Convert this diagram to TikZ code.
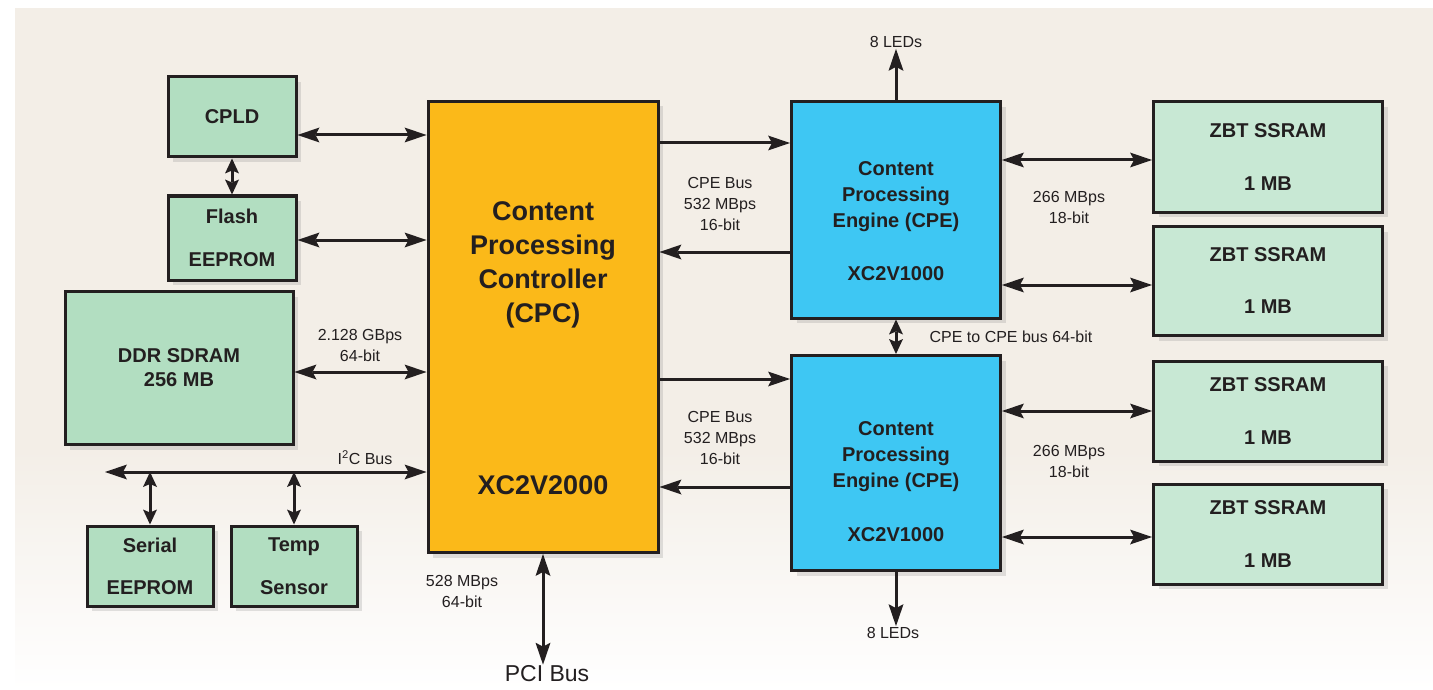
\documentclass[tikz,border=0pt]{standalone}
\usepackage{fontspec}
\setmainfont{Liberation Sans}
\usetikzlibrary{arrows.meta,shadows}

\definecolor{bgbeige}{RGB}{243,238,231}
\definecolor{boxgreen}{RGB}{178,222,193}
\definecolor{zbtgreen}{RGB}{200,232,212}
\definecolor{cpcorange}{RGB}{251,185,25}
\definecolor{cpecyan}{RGB}{62,199,243}
\definecolor{inkgray}{RGB}{35,31,32}

\tikzset{
  blk/.style={draw=inkgray, line width=3pt, inner sep=0pt, align=center, text=inkgray,
    font=\bfseries\fontsize{20}{24}\selectfont,
    drop shadow={shadow xshift=5pt, shadow yshift=-5pt, opacity=0.22}},
  greenblk/.style={blk, fill=boxgreen},
  zbtblk/.style={blk, fill=zbtgreen},
  cpcblk/.style={blk, fill=cpcorange},
  cpeblk/.style={blk, fill=cpecyan},
  blktext/.style={text=inkgray, align=center, inner sep=0pt},
  note/.style={text=inkgray, align=center, inner sep=1pt, font=\fontsize{16}{21}\selectfont},
  bigtip/.tip={Stealth[length=22pt,width=15pt,inset=4pt,line width=0pt]},
  smalltip/.tip={Stealth[length=15pt,width=14pt,inset=3pt,line width=0pt]},
  biarrow/.style={draw=inkgray, line width=3pt, bigtip-bigtip},
  shortarrow/.style={draw=inkgray, line width=3pt, smalltip-smalltip},
  onearrow/.style={draw=inkgray, line width=3pt, -bigtip},
}

\begin{document}
\begin{tikzpicture}[x=1pt, y=-1pt]
  \useasboundingbox (0,0) rectangle (1433,690);
  % Background
  \fill[bgbeige] (15,8) rectangle (1433,450);
  \shade[top color=bgbeige, bottom color=white] (15,449) rectangle (1433,690);

  % Draw the boxes
  \node[greenblk, minimum width=128pt, minimum height=80pt] (cpld) at (232,117) {CPLD};
  \node[greenblk, minimum width=128pt, minimum height=84pt] (flash) at (232,238) {Flash\\[19pt]EEPROM};
  \node[greenblk, minimum width=228pt, minimum height=153pt] (ddr) at (179,368) {DDR SDRAM\\256 MB};
  \node[greenblk, minimum width=126pt, minimum height=80pt] (serial) at (150,566) {Serial\\[18pt]EEPROM};
  \node[greenblk, minimum width=126pt, minimum height=80pt] (temp) at (294,566) {Temp\\[19pt]Sensor};
  \node[cpcblk, minimum width=230pt, minimum height=451pt] (cpc) at (543,327) {};
  \node[cpeblk, minimum width=209pt, minimum height=216pt] (cpe1) at (896,210) {};
  \node[cpeblk, minimum width=209pt, minimum height=215pt] (cpe2) at (896,463) {};
  \node[zbtblk, minimum width=229pt, minimum height=110pt] (zbt1) at (1268,157) {ZBT SSRAM\\[29pt]1 MB};
  \node[zbtblk, minimum width=229pt, minimum height=109pt] (zbt2) at (1268,281) {ZBT SSRAM\\[28pt]1 MB};
  \node[zbtblk, minimum width=229pt, minimum height=100pt] (zbt3) at (1268,411) {ZBT SSRAM\\[29pt]1 MB};
  \node[zbtblk, minimum width=229pt, minimum height=100pt] (zbt4) at (1268,534) {ZBT SSRAM\\[29pt]1 MB};

  % Draw the box titles
  \node[blktext, font=\bfseries\fontsize{27}{34}\selectfont] (cpctitle) at (543,265)
    {Content\\Processing\\Controller\\(CPC)};
  \node[blktext, font=\bfseries\fontsize{27}{34}\selectfont] (cpcpart) at (543,485) {XC2V2000};
  \node[blktext, font=\bfseries\fontsize{20}{26}\selectfont] (cpe1title) at (896,197)
    {Content\\Processing\\Engine (CPE)};
  \node[blktext, font=\bfseries\fontsize{20}{26}\selectfont] (cpe1part) at (896,274) {XC2V1000};
  \node[blktext, font=\bfseries\fontsize{20}{26}\selectfont] (cpe2title) at (896,457)
    {Content\\Processing\\Engine (CPE)};
  \node[blktext, font=\bfseries\fontsize{20}{26}\selectfont] (cpe2part) at (896,535) {XC2V1000};

  % Draw the bus labels
  \node[note] (ddrbus) at (360,345) {2.128 GBps\\64-bit};
  \node[note] (i2cbus) at (365,458) {I\textsuperscript{2}C Bus};
  \node[note] (cpebusa) at (720,204) {CPE Bus\\532 MBps\\16-bit};
  \node[note] (cpebusb) at (720,438) {CPE Bus\\532 MBps\\16-bit};
  \node[note] (zbtbusa) at (1069,207) {266 MBps\\18-bit};
  \node[note] (zbtbusb) at (1069,461) {266 MBps\\18-bit};
  \node[note] (cpelink) at (1011,337) {CPE to CPE bus 64-bit};
  \node[note] (pcibus) at (462,591) {528 MBps\\64-bit};
  \node[note] (ledsup) at (896,42) {8 LEDs};
  \node[note] (ledsdown) at (893,633) {8 LEDs};
  \node[note, font=\fontsize{23}{27}\selectfont] (pci) at (547,674) {PCI Bus};
  \coordinate (i2cend) at (105,472);

  % Draw the connectors
  \draw[biarrow] (cpld.east |- 0,135) -- (cpc.west |- 0,135);
  \draw[biarrow] (flash.east |- 0,240) -- (cpc.west |- 0,240);
  \draw[shortarrow] (cpld.south) -- (flash.north);
  \draw[biarrow] (ddr.east |- 0,372) -- (cpc.west |- 0,372);
  \draw[biarrow] (i2cend) -- (cpc.west |- i2cend);
  \draw[shortarrow] (serial.north) -- (serial.north |- i2cend);
  \draw[shortarrow] (temp.north) -- (temp.north |- i2cend);
  \draw[onearrow] (cpc.east |- 0,143) -- (cpe1.west |- 0,143);
  \draw[onearrow] (cpe1.west |- 0,252) -- (cpc.east |- 0,252);
  \draw[onearrow] (cpc.east |- 0,379) -- (cpe2.west |- 0,379);
  \draw[onearrow] (cpe2.west |- 0,487) -- (cpc.east |- 0,487);
  \draw[biarrow] (cpe1.east |- 0,160) -- (zbt1.west |- 0,160);
  \draw[biarrow] (cpe1.east |- 0,285) -- (zbt2.west |- 0,285);
  \draw[biarrow] (cpe2.east |- 0,411) -- (zbt3.west |- 0,411);
  \draw[biarrow] (cpe2.east |- 0,537) -- (zbt4.west |- 0,537);
  \draw[shortarrow] (cpe1.south) -- (cpe2.north);
  \draw[onearrow] (cpe1.north) -- (ledsup.south);
  \draw[onearrow] (cpe2.south) -- (cpe2.south |- ledsdown.north);
  \draw[biarrow] (cpc.south) -- (cpc.south |- pci.north);
\end{tikzpicture}
\end{document}
